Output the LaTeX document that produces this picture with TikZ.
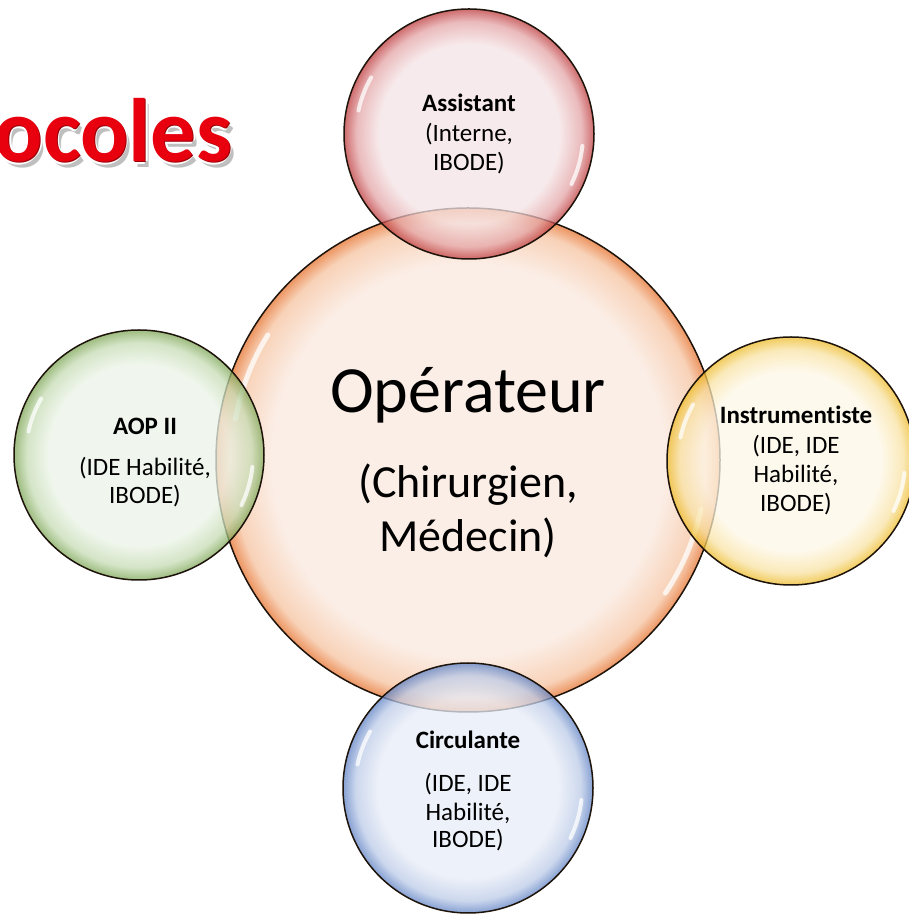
\documentclass[tikz,border=0pt]{standalone}
\usepackage{fontspec}
\setmainfont{Carlito}[Ligatures=NoCommon]
\definecolor{opF}{HTML}{FBEEE6}
\definecolor{opM}{HTML}{F8D2B8}
\definecolor{opR}{HTML}{EC9460}
\definecolor{reF}{HTML}{F5E4E6}
\definecolor{reM}{HTML}{E4A4A6}
\definecolor{reR}{HTML}{BE3A3C}
\definecolor{grF}{HTML}{ECF4E8}
\definecolor{grM}{HTML}{C6DCB4}
\definecolor{grR}{HTML}{7EA656}
\definecolor{yeF}{HTML}{FEF8E8}
\definecolor{yeM}{HTML}{F9E3A4}
\definecolor{yeR}{HTML}{EEBB28}
\definecolor{blF}{HTML}{E8EDF7}
\definecolor{blM}{HTML}{BCCBE8}
\definecolor{blR}{HTML}{5F82C4}
\definecolor{titleRed}{HTML}{E8000E}
\definecolor{titleDark}{HTML}{9A0008}
\pgfdeclareradialshading{shOp}{\pgfpoint{0bp}{0bp}}{color(0bp)=(opF); color(19.5bp)=(opF); color(23.5bp)=(opM); color(25bp)=(opR); color(50bp)=(opR)}
\pgfdeclareradialshading{shRe}{\pgfpoint{0bp}{0bp}}{color(0bp)=(reF); color(18bp)=(reF); color(22.5bp)=(reM); color(25bp)=(reR); color(50bp)=(reR)}
\pgfdeclareradialshading{shGr}{\pgfpoint{0bp}{0bp}}{color(0bp)=(grF); color(18bp)=(grF); color(22.5bp)=(grM); color(25bp)=(grR); color(50bp)=(grR)}
\pgfdeclareradialshading{shYe}{\pgfpoint{0bp}{0bp}}{color(0bp)=(yeF); color(18bp)=(yeF); color(22.5bp)=(yeM); color(25bp)=(yeR); color(50bp)=(yeR)}
\pgfdeclareradialshading{shBl}{\pgfpoint{0bp}{0bp}}{color(0bp)=(blF); color(18bp)=(blF); color(22.5bp)=(blM); color(25bp)=(blR); color(50bp)=(blR)}
\tikzset{
  bubble/.style={circle, draw=black!85!brown, line width=1.5pt, inner sep=0pt},
  satellite/.style={bubble, minimum size=250pt, fill opacity=0.75, draw opacity=1},
  gloss/.style={white, line width=4pt, line cap=round, opacity=0.75},
  bigtxt/.style={anchor=base, inner sep=0pt, font=\fontsize{66}{70}\selectfont},
  midtxt/.style={anchor=base, inner sep=0pt, font=\fontsize{46}{50}\selectfont},
  smalltxt/.style={anchor=base, inner sep=0pt, font=\fontsize{25}{29}\selectfont},
  headtxt/.style={anchor=base, inner sep=0pt, font=\fontsize{25}{29}\selectfont\bfseries},
  titletxt/.style={anchor=base east, inner sep=0pt, font=\fontsize{90}{94}\selectfont\bfseries}
}
\begin{document}
\begin{tikzpicture}[x=1pt,y=1pt]
\useasboundingbox (0,0) rectangle (909,916);
\clip (0,0) rectangle (909,916);
\fill[white] (0,0) rectangle (909,916);

% title
\node[titletxt, text=black, text opacity=0.25] at (236,748) {Protocoles};
\foreach \dx/\dy in {-2.5/0,2.5/0,0/2.5,0/-2.5}
  \node[titletxt, text=white] at (232+\dx,754+\dy) {Protocoles};
\node[titletxt, text=titleDark] at (233,753) {Protocoles};
\node[titletxt, text=titleRed] (title) at (232,754) {Protocoles};

% central circle
\node[bubble, minimum size=504pt, shading=shOp] (op) at (468,456) {};
\draw[gloss, line width=5pt] ([shift={(op.center)}]148:236) arc (148:170:236);
\draw[gloss, line width=5pt] ([shift={(op.center)}]-12:238) arc (-12:-34:238);

% satellites
\node[satellite, shading=shRe] (as) at (469,782) {};
\node[satellite, shading=shGr] (ao) at (139,461) {};
\node[satellite, shading=shYe, minimum size=248pt] (in) at (791,455) {};
\node[satellite, shading=shBl] (ci) at (468,128) {};
\foreach \c in {as,ao,in,ci}{
  \draw[gloss] ([shift={(\c.center)}]150:113) arc (150:168:113);
  \draw[gloss] ([shift={(\c.center)}]-6:114) arc (-6:-26:114);
}

% texts
\node[bigtxt] (opA) at (468,503) {Opérateur};
\node[midtxt] (opB) at (468,418) {(Chirurgien,};
\node[midtxt] (opC) at (468,364) {Médecin)};

\node[headtxt] (asA) at (469,804) {Assistant};
\node[smalltxt] (asB) at (469,774) {(Interne,};
\node[smalltxt] (asC) at (469,745) {IBODE)};

\node[headtxt] (aoA) at (145,481) {AOP II};
\node[smalltxt] (aoB) at (145,440) {(IDE Habilité,};
\node[smalltxt] (aoC) at (145,412) {IBODE)};

\node[headtxt] (inA) at (796,492) {Instrumentiste};
\node[smalltxt] (inB) at (796,462) {(IDE, IDE};
\node[smalltxt] (inC) at (796,433) {Habilité,};
\node[smalltxt] (inD) at (796,404) {IBODE)};

\node[headtxt] (ciA) at (468,167) {Circulante};
\node[smalltxt] (ciB) at (468,124) {(IDE, IDE};
\node[smalltxt] (ciC) at (468,95) {Habilité,};
\node[smalltxt] (ciD) at (468,68) {IBODE)};
\end{tikzpicture}
\end{document}
